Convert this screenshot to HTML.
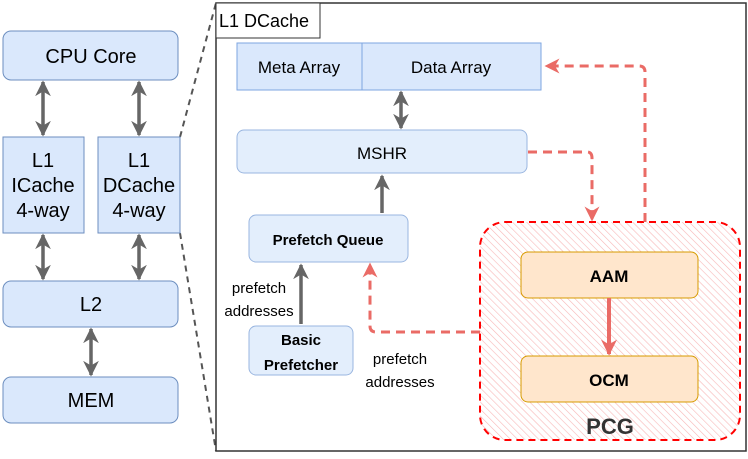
<!DOCTYPE html>
<html><head><meta charset="utf-8"><style>
body{margin:0;background:#fff;}
text{font-family:"Liberation Sans",Arial,sans-serif !important;}
</style></head><body>
<svg width="748" height="454" viewBox="0 0 748 454" xmlns="http://www.w3.org/2000/svg" font-family="Liberation Sans, Arial, sans-serif">
<defs>
<pattern id="h" width="5" height="5" patternUnits="userSpaceOnUse" patternTransform="rotate(-45)">
<rect width="5" height="5" fill="#fff"/><line x1="0" y1="0" x2="0" y2="5" stroke="#f8b8b8" stroke-width="1.2"/>
</pattern>
<marker id="ga" viewBox="0 0 10 10" refX="9" refY="5" markerWidth="4.5" markerHeight="4.5" orient="auto-start-reverse"><path d="M0,0L10,5L0,10L3,5z" fill="#666"/></marker>
<marker id="ra" viewBox="0 0 10 10" refX="9" refY="5" markerWidth="5" markerHeight="5" orient="auto"><path d="M0,0L10,5L0,10L3,5z" fill="#ea6b66"/></marker>
<marker id="ra2" viewBox="0 0 10 10" refX="9" refY="5" markerWidth="4" markerHeight="4" orient="auto"><path d="M0,0L10,5L0,10L3,5z" fill="#ea6b66"/></marker>
</defs>
<line x1="180" y1="137" x2="216" y2="3" stroke="#555" stroke-width="2" stroke-dasharray="6,5"/>
<line x1="180" y1="233" x2="216" y2="451" stroke="#555" stroke-width="2" stroke-dasharray="6,5"/>
<g fill="#dae8fc" stroke="#6c8ebf" stroke-width="1">
<rect x="3" y="31" width="175" height="49" rx="8"/>
<rect x="3" y="137" width="81" height="96"/>
<rect x="98" y="137" width="82" height="96"/>
<rect x="3" y="281" width="175" height="46" rx="8"/>
<rect x="3" y="377" width="175" height="46" rx="8"/>
</g>
<g font-size="20" text-anchor="middle" fill="#000">
<text x="91" y="63">CPU Core</text>
<text x="43" y="167">L1</text><text x="43" y="192">ICache</text><text x="43" y="217">4-way</text>
<text x="139" y="167">L1</text><text x="139" y="192">DCache</text><text x="139" y="217">4-way</text>
<text x="91" y="311">L2</text>
<text x="91" y="407">MEM</text>
</g>
<g stroke="#666" stroke-width="3.5" marker-start="url(#ga)" marker-end="url(#ga)">
<line x1="43" y1="82" x2="43" y2="135"/>
<line x1="139" y1="82" x2="139" y2="135"/>
<line x1="43" y1="235" x2="43" y2="279"/>
<line x1="139" y1="235" x2="139" y2="279"/>
<line x1="91" y1="329" x2="91" y2="375"/>
</g>
<rect x="216" y="3" width="530" height="448" fill="#fff" stroke="#333" stroke-width="1.5"/>
<rect x="216" y="3" width="104" height="35" fill="#fff" stroke="#333" stroke-width="1"/>
<text x="219" y="27" font-size="18">L1 DCache</text>
<rect x="237" y="43" width="125" height="47" fill="#dae8fc" stroke="#7ea6e0"/>
<rect x="362" y="43" width="179" height="47" fill="#dae8fc" stroke="#7ea6e0"/>
<text x="299" y="73" font-size="17" text-anchor="middle">Meta Array</text>
<text x="451" y="73" font-size="17" text-anchor="middle">Data Array</text>
<rect x="237" y="130" width="290" height="43" rx="7" fill="#e3eefc" stroke="#9ab6e0"/>
<text x="382" y="159" font-size="17" text-anchor="middle">MSHR</text>
<rect x="249" y="215" width="159" height="47" rx="7" fill="#e3eefc" stroke="#9ab6e0"/>
<text x="328" y="245" font-size="15" font-weight="bold" text-anchor="middle">Prefetch Queue</text>
<rect x="249" y="326" width="104" height="49" rx="7" fill="#e3eefc" stroke="#9ab6e0"/>
<text x="301" y="345" font-size="15" font-weight="bold" text-anchor="middle">Basic</text>
<text x="301" y="370" font-size="15" font-weight="bold" text-anchor="middle">Prefetcher</text>
<g font-size="15" text-anchor="middle">
<text x="259" y="293">prefetch</text><text x="259" y="316">addresses</text>
<text x="400" y="364">prefetch</text><text x="400" y="387">addresses</text>
</g>
<g stroke="#666" stroke-width="3.5">
<line x1="401" y1="92" x2="401" y2="128" marker-start="url(#ga)" marker-end="url(#ga)"/>
<line x1="382" y1="213" x2="382" y2="176" marker-end="url(#ga)"/>
<line x1="301" y1="324" x2="301" y2="265" marker-end="url(#ga)"/>
</g>
<rect x="480" y="222" width="260" height="218" rx="25" fill="url(#h)" stroke="#f00" stroke-width="2" stroke-dasharray="7,5"/>
<rect x="521" y="252" width="177" height="46" rx="7" fill="#ffe6cc" stroke="#d79b00"/>
<rect x="521" y="356" width="177" height="46" rx="7" fill="#ffe6cc" stroke="#d79b00"/>
<text x="609" y="282" font-size="17" font-weight="bold" text-anchor="middle">AAM</text>
<text x="609" y="386" font-size="17" font-weight="bold" text-anchor="middle">OCM</text>
<text x="610" y="434" font-size="22" font-weight="bold" fill="#333" text-anchor="middle">PCG</text>
<line x1="609" y1="298" x2="609" y2="354" stroke="#ea6b66" stroke-width="4" marker-end="url(#ra2)"/>
<g fill="none" stroke="#ea6b66" stroke-width="3" stroke-dasharray="9,6">
<path d="M645,222 V72 Q645,66 639,66 H546" marker-end="url(#ra)"/>
<path d="M528,152 H587 Q592,152 592,158 V220" marker-end="url(#ra)"/>
<path d="M480,332 H376 Q370,332 370,326 V264" marker-end="url(#ra)"/>
</g>
</svg>
</body></html>
